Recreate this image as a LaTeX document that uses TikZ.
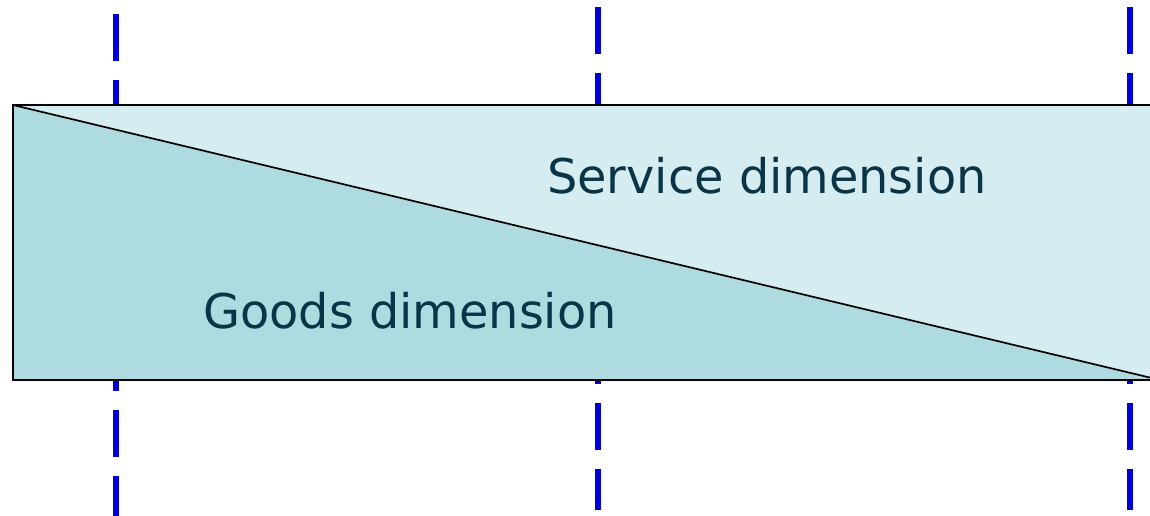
\documentclass[tikz,border=0pt]{standalone}
\usepackage{fontspec}
\setmainfont{DejaVu Sans}
\definecolor{serviceFill}{HTML}{D5ECF0}
\definecolor{goodsFill}{HTML}{ADDBE0}
\definecolor{labelInk}{HTML}{0B3447}
\definecolor{markerBlue}{HTML}{0000D8}
\begin{document}
\begin{tikzpicture}[x=1pt,y=-1pt,
  boundary/.style={draw=markerBlue, line width=6pt, dash pattern=on 47pt off 19pt},
  dimlabel/.style={text=labelInk, inner sep=0pt, anchor=base west,
    font=\fontsize{47.8}{50}\selectfont}]
\useasboundingbox (0,0) rectangle (1150,516);
\clip (0,0) rectangle (1150,516);
% corners of the band
\coordinate (tl) at (13,105);
\coordinate (tr) at (1165,105);
\coordinate (bl) at (13,380);
\coordinate (br) at (1165,380);
\coordinate (dend) at (1160,380);
% vertical phase boundaries, behind the band
\draw[boundary] (116,13.7) -- (116,530);
\draw[boundary] (598,7) -- (598,510);
\draw[boundary] (1130,7) -- (1130,510);
% the band, split by the diagonal
\fill[serviceFill] (tl) rectangle (br);
\fill[goodsFill] (tl) -- (dend) -- (bl) -- cycle;
\draw[line width=2pt] (tl) rectangle (br);
\draw[line width=1.7pt] (tl) -- (dend);
% labels
\node[dimlabel] (service) at (547,193) {Service dimension};
\node[dimlabel] (goods) at (203,328) {Goods dimension};
\end{tikzpicture}
\end{document}
